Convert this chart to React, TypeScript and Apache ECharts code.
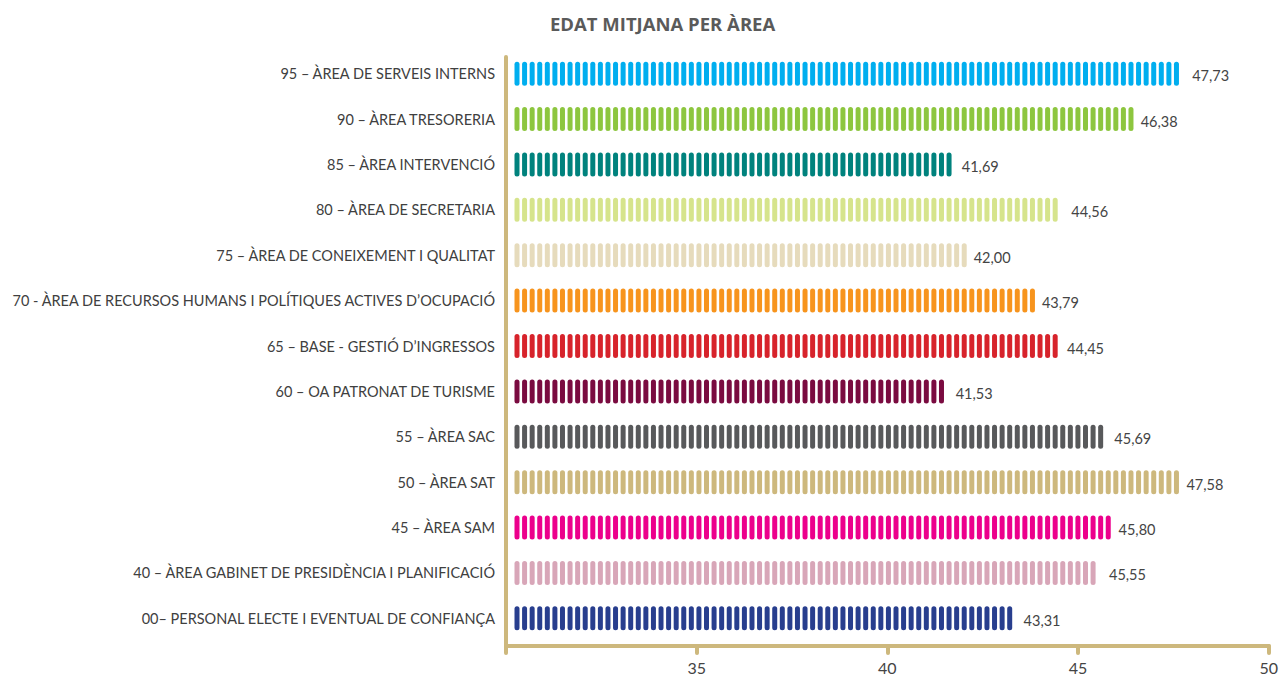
import React, { useEffect, useRef } from "react";
import * as echarts from "echarts";

const TITLE = "EDAT MITJANA PER ÀREA";

const CATEGORIES = [
  "95 – ÀREA DE SERVEIS INTERNS",
  "90 – ÀREA TRESORERIA",
  "85 – ÀREA INTERVENCIÓ",
  "80 – ÀREA DE SECRETARIA",
  "75 – ÀREA DE CONEIXEMENT I QUALITAT",
  "70 - ÀREA DE RECURSOS HUMANS I POLÍTIQUES ACTIVES D’OCUPACIÓ",
  "65 – BASE - GESTIÓ D’INGRESSOS",
  "60 – OA PATRONAT DE TURISME",
  "55 – ÀREA SAC",
  "50 – ÀREA SAT",
  "45 – ÀREA SAM",
  "40 – ÀREA GABINET DE PRESIDÈNCIA I PLANIFICACIÓ",
  "00– PERSONAL ELECTE I EVENTUAL DE CONFIANÇA",
];

const VALUES = [47.73, 46.38, 41.69, 44.56, 42.0, 43.79, 44.45, 41.53, 45.69, 47.58, 45.8, 45.55, 43.31];

const COLORS = [
  "#00AEEF",
  "#8DC63F",
  "#00827D",
  "#D6E48C",
  "#E6DBBC",
  "#F7941D",
  "#D7232B",
  "#7A0B40",
  "#58595B",
  "#CDB87D",
  "#EC008C",
  "#D8A6B8",
  "#283E8E",
];

const X_MIN = 30;
const X_MAX = 50;
const X_INTERVAL = 5;

const AXIS_COLOR = "#CDB87D";
const TEXT_COLOR = "#404040";
const FONT = "Lato, 'Open Sans', sans-serif";

const fmt = (v: number) => v.toFixed(2).replace(".", ",");

export default function App() {
  const ref = useRef<HTMLDivElement>(null);

  useEffect(() => {
    document.body.style.margin = "0";
    if (!ref.current) return;
    const chart = echarts.init(ref.current, undefined, { renderer: "svg" });

    const GRID_LEFT = 506;
    const GRID_TOP = 51;
    const GRID_H = 590;

    const PILL_W = 5;
    const PILL_H = 24;
    const PERIOD = 7.58;
    const START_PAD = 8.5;

    const option: any = {
      animation: false,
      backgroundColor: "#ffffff",
      title: {
        text: TITLE,
        left: 545,
        top: 9,
        textStyle: {
          fontFamily: "'Open Sans', sans-serif",
          fontWeight: "bold",
          fontSize: 18.5,
          color: "#5a5a5a",
        },
      },
      grid: {
        left: GRID_LEFT,
        right: 12,
        top: GRID_TOP,
        height: GRID_H,
      },
      xAxis: {
        type: "value",
        min: X_MIN,
        max: X_MAX,
        interval: X_INTERVAL,
        offset: 5,
        splitLine: { show: false },
        axisLine: {
          show: true,
          lineStyle: { color: AXIS_COLOR, width: 4, cap: "round" },
        },
        axisTick: {
          show: true,
          length: 7,
          lineStyle: { color: AXIS_COLOR, width: 4, cap: "round" },
        },
        axisLabel: {
          margin: 13,
          color: "#444",
          fontSize: 16,
          fontFamily: FONT,
          formatter: (v: number) => (v === X_MIN ? "" : String(v)),
        },
      },
      yAxis: {
        type: "category",
        inverse: true,
        data: CATEGORIES,
        axisLine: { show: false },
        axisTick: { show: false },
        splitLine: { show: false },
        axisLabel: {
          margin: 11,
          color: TEXT_COLOR,
          fontSize: 14.5,
          fontFamily: FONT,
        },
      },
      graphic: [
        {
          type: "line",
          shape: { x1: GRID_LEFT, y1: 57, x2: GRID_LEFT, y2: GRID_TOP + GRID_H + 5 },
          style: { stroke: AXIS_COLOR, lineWidth: 4, lineCap: "round" },
          z: 10,
        },
      ],
      series: [
        {
          type: "custom",
          encode: { x: 0, y: 1 },
          data: VALUES.map((v, i) => [v, CATEGORIES[i]]),
          renderItem: (params: any, api: any) => {
            const val = api.value(0);
            const cat = api.value(1);
            const start = api.coord([X_MIN, cat]);
            const end = api.coord([val, cat]);
            const cy = start[1];
            const x0 = start[0] + START_PAD;
            const gap = PERIOD - PILL_W;
            const n = Math.max(1, Math.round((end[0] - x0 + gap) / PERIOD));
            const color = COLORS[params.dataIndex];
            const children: any[] = [];
            for (let k = 0; k < n; k++) {
              children.push({
                type: "rect",
                shape: {
                  x: x0 + k * PERIOD,
                  y: cy - PILL_H / 2,
                  width: PILL_W,
                  height: PILL_H,
                  r: PILL_W / 2,
                },
                style: { fill: color },
              });
            }
            children.push({
              type: "text",
              style: {
                text: fmt(val),
                x: end[0] + 10,
                y: cy + 2,
                verticalAlign: "middle",
                align: "left",
                fill: "#444",
                fontSize: 14.5,
                fontFamily: FONT,
              },
            });
            return { type: "group", children };
          },
        },
      ],
    };

    chart.setOption(option);
    return () => chart.dispose();
  }, []);

  return <div ref={ref} style={{ width: 1281, height: 678 }} />;
}
